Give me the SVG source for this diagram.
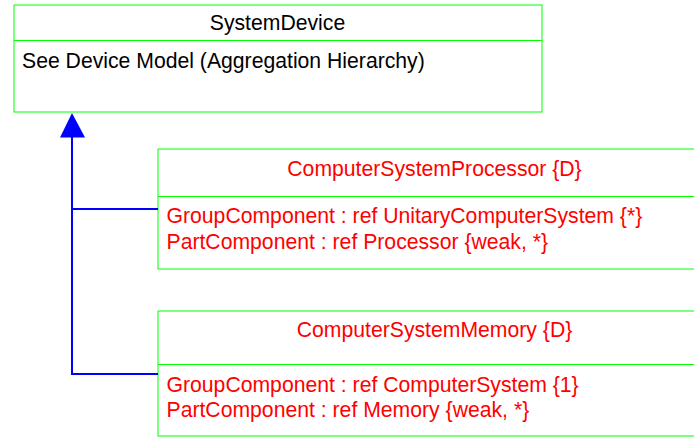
<svg xmlns="http://www.w3.org/2000/svg" width="694" height="438" viewBox="0 0 694 438">
<style>
.box{fill:#ffffff;stroke:#00ff00;stroke-width:1}
.div{stroke:#00ff00;stroke-width:1}
.t{font-family:"Liberation Sans",Arial,sans-serif;font-size:21.2px}
.blk{fill:#000000}
.red{fill:#ff0000}
.conn{stroke:#0000ff;stroke-width:2;fill:none}
</style>
<rect width="694" height="438" fill="#ffffff"/>
<g id="SystemDevice">
<rect class="box" x="14" y="5" width="528" height="107"/>
<line class="div" x1="14" y1="40.5" x2="542" y2="40.5"/>
<text class="t blk" x="277.5" y="30" text-anchor="middle">SystemDevice</text>
<text class="t blk" x="22" y="68">See Device Model (Aggregation Hierarchy)</text>
</g>
<g id="ComputerSystemProcessor">
<rect class="box" x="158" y="149" width="560" height="120"/>
<line class="div" x1="158" y1="196.5" x2="718" y2="196.5"/>
<text class="t red" x="434.5" y="176" text-anchor="middle">ComputerSystemProcessor {D}</text>
<text class="t red" x="166.5" y="223.3">GroupComponent : ref UnitaryComputerSystem {*}</text>
<text class="t red" x="166.5" y="249.3">PartComponent : ref Processor {weak, *}</text>
</g>
<g id="ComputerSystemMemory">
<rect class="box" x="158" y="311" width="560" height="125"/>
<line class="div" x1="158" y1="364.5" x2="718" y2="364.5"/>
<text class="t red" x="434.5" y="337.3" text-anchor="middle">ComputerSystemMemory {D}</text>
<text class="t red" x="166.5" y="391.7">GroupComponent : ref ComputerSystem {1}</text>
<text class="t red" x="166.5" y="417.3">PartComponent : ref Memory {weak, *}</text>
</g>
<g id="connectors">
<polyline class="conn" points="158,209 72,209 72,136"/>
<polyline class="conn" points="158,374 72,374 72,208"/>
<polygon points="72,113 60,137.5 85,137.5" fill="#0000ff"/>
</g>
</svg>
